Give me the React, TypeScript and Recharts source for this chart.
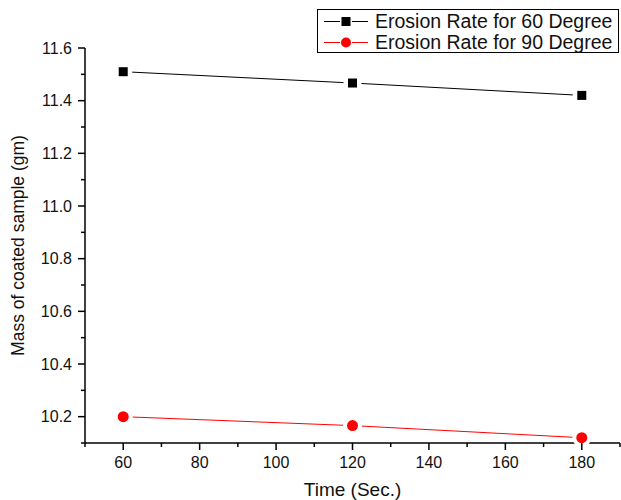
import { Legend, Line, LineChart, XAxis, YAxis, Label } from 'recharts';

const times = [60, 120, 180];
const rate60 = [11.51, 11.467, 11.42];
const rate90 = [10.2, 10.166, 10.12];
const xTicks = [50, 60, 70, 80, 90, 100, 110, 120, 130, 140, 150, 160, 170, 180, 190];
const yTicks = [10.1, 10.2, 10.3, 10.4, 10.5, 10.6, 10.7, 10.8, 10.9, 11.0, 11.1, 11.2, 11.3, 11.4, 11.5, 11.6];

const data = times.map((t, i) => ({ time: t, rate60: rate60[i], rate90: rate90[i] }));

const FONT = 'Arial, "Liberation Sans", sans-serif';

function XTick(props: any) {
  const { x, y, payload } = props;
  const major = payload.value % 20 === 0;
  return (
    <g>
      <line x1={x} y1={y} x2={x} y2={y + (major ? 7 : 4)} stroke="#000" strokeWidth={1.5} />
      {major && (
        <text x={x} y={y + 25} textAnchor="middle" fontSize={16} fill="#111" fontFamily={FONT}>
          {payload.value}
        </text>
      )}
    </g>
  );
}

function YTick(props: any) {
  const { x, y, payload } = props;
  const major = Math.round(payload.value * 10) % 2 === 0;
  return (
    <g>
      <line x1={x} y1={y} x2={x - (major ? 7 : 4)} y2={y} stroke="#000" strokeWidth={1.5} />
      {major && (
        <text x={x - 13} y={y + 5.5} textAnchor="end" fontSize={16} fill="#111" fontFamily={FONT}>
          {payload.value.toFixed(1)}
        </text>
      )}
    </g>
  );
}

function SquareDot(props: any) {
  const { cx, cy } = props;
  return (
    <g>
      <rect x={cx - 9} y={cy - 9} width={18} height={18} fill="#fff" />
      <rect x={cx - 4.5} y={cy - 4.5} width={9} height={9} fill="#000" />
    </g>
  );
}

function CircleDot(props: any) {
  const { cx, cy } = props;
  return (
    <g>
      <circle cx={cx} cy={cy} r={9.5} fill="#fff" />
      <circle cx={cx} cy={cy} r={5.5} fill="#ff0000" />
    </g>
  );
}

function LegendBox() {
  const rows = [
    { label: 'Erosion Rate for 60 Degree', color: '#000', square: true },
    { label: 'Erosion Rate for 90 Degree', color: '#ff0000', square: false },
  ];
  return (
    <div
      style={{
        border: '1px solid #000',
        width: 302,
        height: 44,
        background: '#fff',
        fontFamily: FONT,
        fontSize: 19.5,
        color: '#111',
        boxSizing: 'border-box',
        paddingTop: 1,
      }}
    >
      {rows.map((r) => (
        <div key={r.label} style={{ display: 'flex', alignItems: 'center', height: 21, lineHeight: '21px' }}>
          <svg width={57} height={21} style={{ flexShrink: 0 }}>
            <line x1={6} y1={10.5} x2={22} y2={10.5} stroke={r.color} strokeWidth={1} />
            <line x1={34} y1={10.5} x2={50} y2={10.5} stroke={r.color} strokeWidth={1} />
            {r.square ? (
              <rect x={23.5} y={6} width={9} height={9} fill={r.color} />
            ) : (
              <circle cx={28} cy={10.5} r={5} fill={r.color} />
            )}
          </svg>
          <span style={{ whiteSpace: 'nowrap' }}>{r.label}</span>
        </div>
      ))}
    </div>
  );
}

export default function App() {
  return (
    <div style={{ position: 'absolute', left: 0, top: 0, background: '#fff' }}>
      <style>{'body{margin:0}'}</style>
      <LineChart width={621} height={500} data={data} margin={{ top: 48, right: 1, bottom: 0, left: 0 }}>
        <XAxis
          dataKey="time"
          type="number"
          domain={[50, 190]}
          ticks={xTicks}
          interval={0}
          tickSize={0}
          tickMargin={0}
          tick={<XTick />}
          height={57}
          axisLine={{ stroke: '#000', strokeWidth: 1.5 }}
        >
          <Label value="Time (Sec.)" position="insideBottom" offset={4} fontSize={19} fill="#111" fontFamily={FONT} />
        </XAxis>
        <YAxis
          type="number"
          domain={[10.1, 11.6]}
          ticks={yTicks}
          interval={0}
          tickSize={0}
          tickMargin={0}
          tick={<YTick />}
          width={85}
          axisLine={{ stroke: '#000', strokeWidth: 1.5 }}
        >
          <Label
            value="Mass of coated sample (gm)"
            angle={-90}
            position="insideLeft"
            offset={18}
            dx={0}
            style={{ textAnchor: 'middle' }}
            fontSize={17.5}
            fill="#111"
            fontFamily={FONT}
          />
        </YAxis>
        <Legend
          verticalAlign="middle"
          align="center"
          layout="horizontal"
          wrapperStyle={{ top: 9, left: 317, width: 302, height: 44 }}
          content={<LegendBox />}
        />
        <Line
          dataKey="rate60"
          name="Erosion Rate for 60 Degree"
          stroke="#000"
          strokeWidth={1}
          dot={<SquareDot />}
          activeDot={false}
          isAnimationActive={false}
        />
        <Line
          dataKey="rate90"
          name="Erosion Rate for 90 Degree"
          stroke="#ff0000"
          strokeWidth={1}
          dot={<CircleDot />}
          activeDot={false}
          isAnimationActive={false}
        />
      </LineChart>
    </div>
  );
}
